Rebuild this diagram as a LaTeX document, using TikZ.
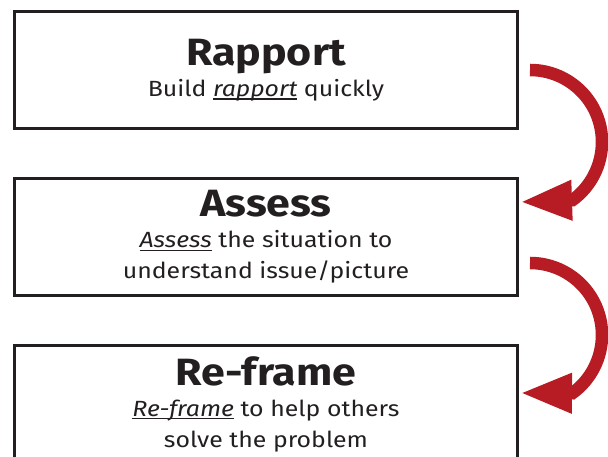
\documentclass[tikz,border=0pt]{standalone}
\usepackage{fontspec}
\setmainfont[FakeStretch = 1.13]{Fira Sans}
\usepackage{tikz}
\usetikzlibrary{positioning}
\usetikzlibrary{calc}
\usetikzlibrary{arrows.meta}

\definecolor{inkgray}{HTML}{231F20}
\definecolor{loopred}{HTML}{B71C24}

% italic word with a thin rule just under its baseline
\newsavebox{\keybox}
\newcommand{\keyword}[1]{\sbox{\keybox}{\textit{#1}}\rlap{\rule[-3.3pt]{\wd\keybox}{1.1pt}}\usebox{\keybox}}
\newcommand{\stagetitle}[1]{{\fontsize{38}{32}\selectfont\bfseries #1}}

\tikzset{
    stage/.style = {draw = inkgray, line width = 2.5pt, minimum width = 503pt, minimum height = 117pt,
                    inner sep = 0pt, outer sep = 0pt, align = center, text = inkgray,
                    font = \fontsize{22}{31}\selectfont},
    loop arrow/.style = {draw = loopred, line width = 12.5pt, -{Triangle[length = 52pt, width = 37pt]}}
}

\begin{document}
\begin{tikzpicture}[x = 1pt, y = 1pt, node distance = 50pt]
                \useasboundingbox (0,0) rectangle (608,457);

                % Draw the three stages:
                \node [stage] (rapport) at (266,387)
                    {\stagetitle{Rapport}\\ Build \keyword{rapport} quickly};
                \node [stage, below = of rapport] (assess)
                    {\stagetitle{Assess}\\ \keyword{Assess} the situation to\\ understand issue/picture};
                \node [stage, below = of assess] (reframe)
                    {\stagetitle{Re-frame}\\ \keyword{Re-frame} to help others\\ solve the problem};

                % Draw the curved arrows between them:
                \draw [loop arrow] ($(rapport.east)+(12.5,0)$)
                    arc [start angle = 90, end angle = -54, radius = 72] -- ($(assess.east)+(2.5,35)$);
                \draw [loop arrow] ($(assess.east)+(12.5,-26)$)
                    arc [start angle = 90, end angle = -54, radius = 72] -- ($(reframe.east)+(2.5,11)$);
            \end{tikzpicture}
\end{document}
